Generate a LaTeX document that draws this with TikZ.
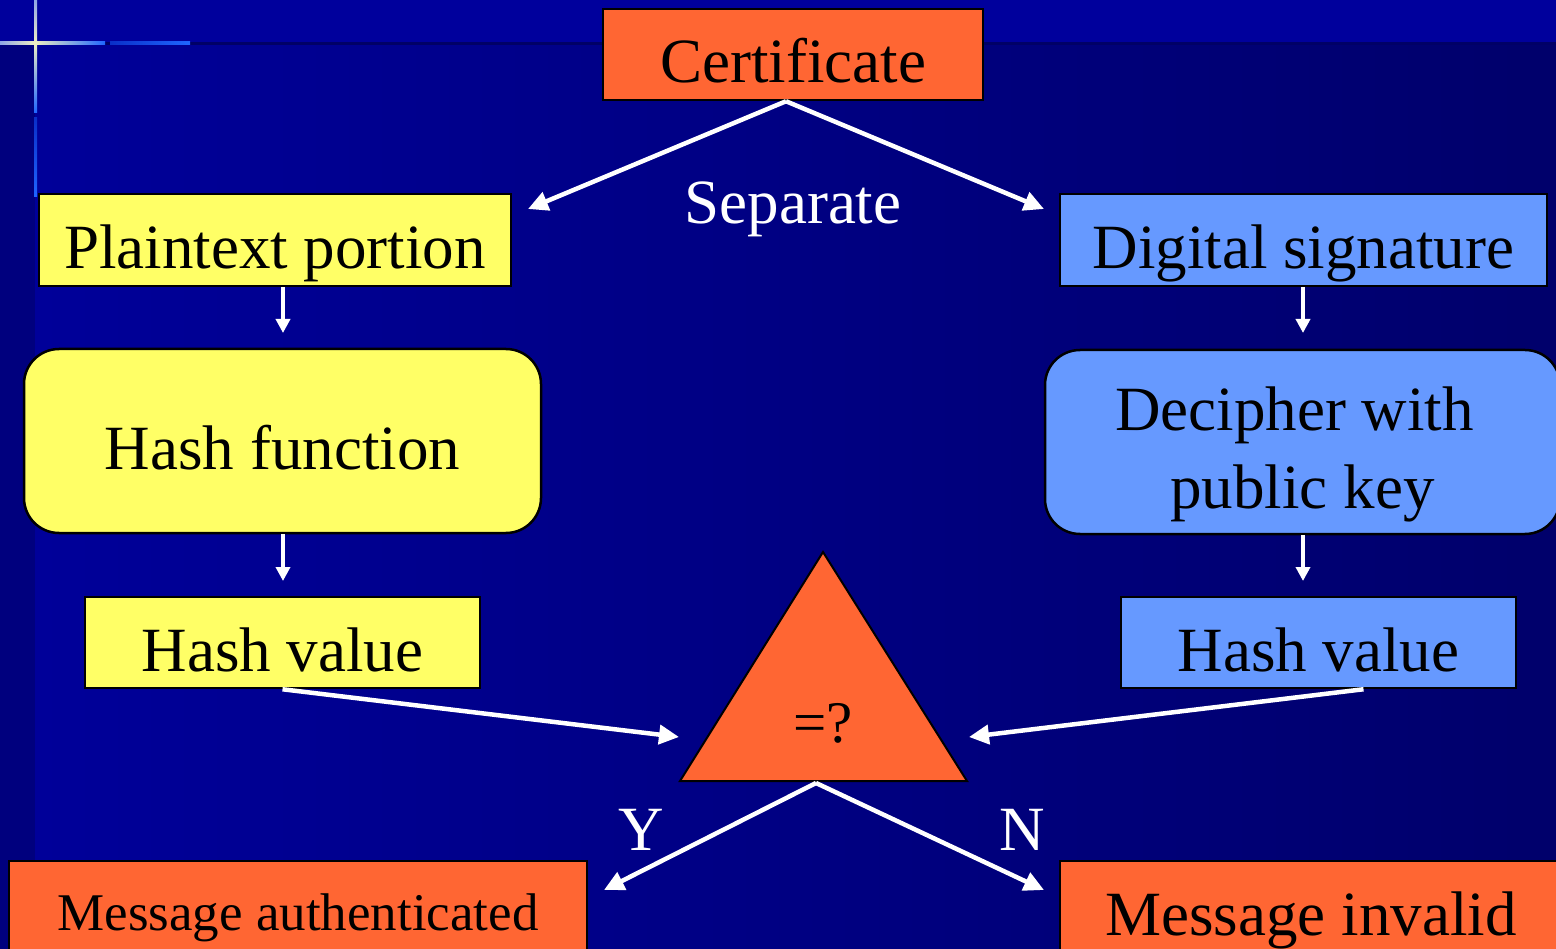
\documentclass[tikz,border=0pt]{standalone}
\usepackage{fontspec}
\setmainfont{Liberation Serif}
\usetikzlibrary{arrows.meta}
\definecolor{bgtop}{HTML}{00009C}
\definecolor{bgleft}{HTML}{000099}
\definecolor{bgmid}{HTML}{000082}
\definecolor{bgright}{HTML}{00006B}
\definecolor{bgstrip}{HTML}{00007E}
\definecolor{ruledark}{HTML}{000066}
\definecolor{rulelight}{HTML}{EEEEC4}
\definecolor{rulepale}{HTML}{8FA6E6}
\definecolor{ruleblue}{HTML}{1F66FF}
\definecolor{ruledim}{HTML}{0A2FC8}
\definecolor{certorange}{HTML}{FF6633}
\definecolor{plainyellow}{HTML}{FFFF66}
\definecolor{sigblue}{HTML}{6699FF}
\begin{document}
\begin{tikzpicture}[x=1pt,y=-1pt,
  box/.style={draw=black, line width=2.5pt, inner sep=0pt,
    text height=70pt, text depth=13pt, font=\fontsize{63}{78}\selectfont},
  orangebox/.style={box, fill=certorange},
  yellowbox/.style={box, fill=plainyellow},
  bluebox/.style={box, fill=sigblue},
  roundbox/.style={rounded corners=35pt},
  lbl/.style={text=white, inner sep=0pt, anchor=base, font=\fontsize{63}{76}\selectfont},
  flow/.style={draw=white, line width=4.5pt, -{Triangle[length=20pt,width=19pt]}},
  drop/.style={draw=white, line width=4pt, -{Triangle[length=14pt,width=14pt]}}
]
\useasboundingbox (0,0) rectangle (1556,949);
\clip (0,0) rectangle (1556,949);

% background
\fill[bgleft] (0,0) rectangle (1556,949);
\shade[left color=bgleft, right color=bgright, middle color=bgmid] (35,44) rectangle (1556,949);
\fill[bgstrip] (0,44) rectangle (35,949);
\fill[bgtop] (0,0) rectangle (1556,42);
% corner rule lines
\fill[ruledark] (0,42) rectangle (1556,45);
\shade[left color=rulepale, right color=rulelight] (0,42) rectangle (35,45);
\shade[left color=rulelight, right color=ruleblue] (35,42) rectangle (105,45);
\shade[left color=ruledim, right color=ruleblue] (110,42) rectangle (190,45);
\shade[top color=rulepale, bottom color=rulelight] (34,0) rectangle (37,43);
\shade[top color=rulelight, bottom color=ruleblue] (34,43) rectangle (37,113);
\shade[top color=ruledim, bottom color=ruleblue] (34,118) rectangle (37,197);

% boxes
\node[orangebox, minimum width=380pt, minimum height=91pt] (cert) at (793,54.5) {Certificate};
\node[yellowbox, minimum width=472pt, minimum height=92pt] (plain) at (275,240) {Plaintext portion};
\node[bluebox, minimum width=487pt, minimum height=92pt] (dig) at (1303.5,240) {Digital signature};
\node[yellowbox, roundbox, minimum width=517pt, minimum height=184pt] (hashfn) at (282.5,441) {Hash function};
\node[bluebox, roundbox, minimum width=515pt, minimum height=184pt, align=center,
  text height=, text depth=] (dec) at (1302.5,442) {\rule{0pt}{68pt}Decipher with\kern0.25em\\public key};
\node[yellowbox, minimum width=395pt, minimum height=91pt] (hvl) at (282.5,642.5) {Hash value};
\node[bluebox, minimum width=395pt, minimum height=91pt] (hvr) at (1318.5,642.5) {Hash value};
\node[orangebox, minimum width=578pt, minimum height=92pt, text height=60pt, text depth=14pt,
  font=\fontsize{53}{64}\selectfont] (auth) at (298,907) {Message authenticated};
\node[orangebox, minimum width=502pt, minimum height=92pt] (inval) at (1311,907) {Message invalid};

% comparison triangle
\coordinate (apex) at (823,552);
\coordinate (bl) at (680,781);
\coordinate (br) at (967,781);
\draw[fill=certorange, line width=2pt, line join=miter] (apex) -- (bl) -- (br) -- cycle;
\node[inner sep=0pt, anchor=base, font=\fontsize{59}{70}\selectfont] (cmp) at (823,742) {=?};
\coordinate (cmpbase) at (816,783);

% labels
\node[lbl] (sep) at (793,224) {Separate};
\node[lbl] (yes) at (641,850) {Y};
\node[lbl] (no) at (1022,850) {N};

% arrow end points
\coordinate (sepl) at (528,209);
\coordinate (sepr) at (1044,209);
\coordinate (d1) at (283,333);
\coordinate (d2) at (283,581);
\coordinate (d3) at (1303,333);
\coordinate (d4) at (1303,581);
\coordinate (inl) at (679,737);
\coordinate (inr) at (969,737);
\coordinate (outy) at (604,890);
\coordinate (outn) at (1044,890);

% connectors
\draw[flow] ([xshift=-7pt]cert.south) -- (sepl);
\draw[flow] ([xshift=-7pt]cert.south) -- (sepr);
\draw[drop] (plain.south -| d1) -- (d1);
\draw[drop] (hashfn.south -| d2) -- (d2);
\draw[drop] (dig.south -| d3) -- (d3);
\draw[drop] (dec.south -| d4) -- (d4);
\draw[flow] (hvl.south) -- (inl);
\draw[flow] ([xshift=45pt]hvr.south) -- (inr);
\draw[flow] (cmpbase) -- (outy);
\draw[flow] (cmpbase) -- (outn);
\end{tikzpicture}
\end{document}
